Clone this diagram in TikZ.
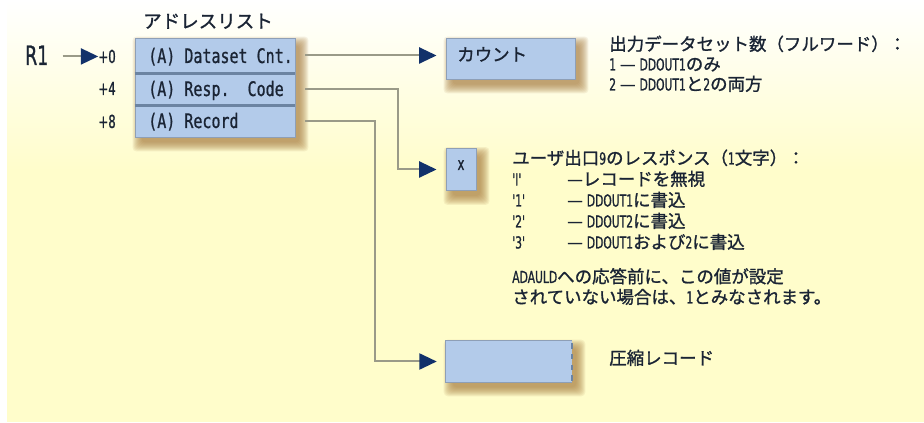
\documentclass[tikz,border=0pt]{standalone}
\usepackage{fontspec}
\setmainfont{Noto Sans CJK JP}
\newfontfamily\jp[FakeBold=1.2]{Noto Sans CJK JP}
\newfontfamily\narrowsans[FakeStretch=0.65,FakeBold=1.0,Ligatures=TeXOff]{DejaVu Sans}
\newfontfamily\narrowmono[FakeStretch=0.75,FakeBold=0.8,Ligatures=TeXOff]{DejaVu Sans Mono}
\usetikzlibrary{arrows.meta,calc}

\definecolor{bgyellow}{HTML}{FFFDCB}
\definecolor{boxfill}{HTML}{B3CBEA}
\definecolor{boxedge}{HTML}{8E9FB6}
\definecolor{rowline}{HTML}{6C84A2}
\definecolor{wirec}{HTML}{9A9A88}
\definecolor{tipc}{HTML}{12316A}
\definecolor{ink}{HTML}{1A2434}
\definecolor{shadowc}{HTML}{A87C40}

% font sizes (1 px = 0.75 pt)
\newcommand\jpf{\jp\fontsize{13.1pt}{16pt}\selectfont}
\newcommand\titlef{\jp\fontsize{13.9pt}{16pt}\selectfont}
\newcommand\rowf{\narrowmono\fontsize{15pt}{18pt}\selectfont}
\newcommand\regf{\narrowsans\fontsize{20pt}{22pt}\selectfont}
\newcommand\offf{\narrowsans\fontsize{13.5pt}{16pt}\selectfont}
\newcommand\lat[1]{{\narrowsans\fontsize{12.4pt}{16pt}\selectfont #1}}
\newcommand\quotecol[1]{\makebox[41.25pt][l]{\lat{#1}}}

\pgfdeclarelayer{backdrop}
\pgfdeclarelayer{shade}
\pgfsetlayers{backdrop,shade,main}

% soft drop shadow behind a box, given its two corners
\newcommand\boxshadow[2]{%
  \begin{pgfonlayer}{shade}
    \foreach \k in {1,...,10}{%
      \fill[shadowc, opacity=0.11, rounded corners=3pt]
        ($(#1)+(8-\k,9-\k)$) rectangle ($(#2)+(3+\k,4+\k)$);
    }
  \end{pgfonlayer}}

\begin{document}
\begin{tikzpicture}[x=0.75pt,y=-0.75pt,
  wire/.style={draw=wirec, line width=1.5pt},
  tipped/.style={wire, -{Triangle[length=13pt,width=12pt,color=tipc]}},
  bluebox/.style={rectangle, fill=boxfill, draw=boxedge, line width=0.7pt, inner sep=0pt},
  rowsep/.style={draw=rowline, line width=1.7pt},
  jtext/.style={font=\jpf, text=ink, inner sep=0pt, anchor=base west},
  rowtext/.style={font=\rowf, text=ink, inner sep=0pt, anchor=base west},
  offtext/.style={font=\offf, text=ink, inner sep=0pt, anchor=base east},
]
\useasboundingbox (0,0) rectangle (924,423);

% backdrop: white fading into pale yellow
\begin{pgfonlayer}{backdrop}
  \fill[white] (0,0) rectangle (924,423);
  \shade[top color=white, bottom color=bgyellow] (7,0) rectangle (924,170);
  \fill[bgyellow] (7,170) rectangle (924,422);
\end{pgfonlayer}

% address list
\node[font=\titlef, text=ink, inner sep=0pt, anchor=base] (title) at (208,28) {アドレスリスト};
\node[bluebox, minimum width=120pt, minimum height=26.25pt] (row0) at (215,55.5) {};
\node[bluebox, minimum width=120pt, minimum height=24pt] (row4) at (215,89) {};
\node[bluebox, minimum width=120pt, minimum height=24pt] (row8) at (215,121) {};
\draw[rowsep] (row0.south west) -- (row0.south east);
\draw[rowsep] (row4.south west) -- (row4.south east);
\boxshadow{row0.north west}{row8.south east}

\node[rowtext] (t0) at (148,63) {(A) Dataset Cnt.};
\node[rowtext] (t4) at (148,96) {(A)~Resp.~~Code};
\node[rowtext] (t8) at (148,128) {(A) Record};

\node[offtext] (off0) at (116,63) {+0};
\node[offtext] (off4) at (116,95) {+4};
\node[offtext] (off8) at (116,128) {+8};

\node[font=\regf, text=ink, inner sep=0pt, anchor=base west] (r1) at (25,65) {R1};
\draw[tipped] ([xshift=10.5pt]r1.east |- off0.west) -- (off0.west);

% target areas
\node[bluebox, minimum width=96.75pt, minimum height=30.75pt] (count) at (510.5,58.5) {};
\boxshadow{count.north west}{count.south east}
\node[jtext] (countlbl) at (457,61) {カウント};

\node[bluebox, minimum width=22.5pt, minimum height=31.5pt] (xbox) at (461,169.5) {};
\boxshadow{xbox.north west}{xbox.south east}
\node[font=\offf, text=ink, inner sep=0pt, anchor=base] (xlbl) at (461,170) {x};

\node[rectangle, fill=boxfill, inner sep=0pt, minimum width=94.5pt, minimum height=30.75pt] (recbox) at (509,361.5) {};
\boxshadow{recbox.north west}{recbox.south east}
\draw[boxedge, line width=0.7pt] (recbox.north east) -- (recbox.north west) -- (recbox.south west) -- (recbox.south east);
\draw[rowline, line width=1.5pt, dash pattern=on 4pt off 4pt] ([yshift=-2pt]recbox.north east) -- (recbox.south east);

% connectors
\draw[tipped, shorten >=6.75pt] ([xshift=7.5pt]row0.east) -- (row0.east -| count.west);
\draw[tipped, shorten >=6.75pt] ([xshift=7.5pt]row4.east) -- ([xshift=-36pt]row4.east -| xbox.west) |- (xbox.west);
\draw[tipped, shorten >=6.75pt] ([xshift=7.5pt]row8.east) -- ([xshift=-53.25pt]row8.east -| recbox.west) |- (recbox.west);

% descriptions
\node[jtext] (d1a) at (609,50.5) {出力データセット数（フルワード）：};
\node[jtext] (d1b) at (609,70.5) {\lat{1} — \lat{DDOUT1}のみ};
\node[jtext] (d1c) at (609,90.5) {\lat{2} — \lat{DDOUT1}と\lat{2}の両方};

\node[jtext] (d2a) at (512,164.5) {ユーザ出口\lat{9}のレスポンス（\lat{1}文字）：};
\node[jtext] (d2b) at (512,185.5) {\quotecol{'I'}—レコードを無視};
\node[jtext] (d2c) at (512,206.5) {\quotecol{'1'}— \lat{DDOUT1}に書込};
\node[jtext] (d2d) at (512,227.5) {\quotecol{'2'}— \lat{DDOUT2}に書込};
\node[jtext] (d2e) at (512,248.5) {\quotecol{'3'}— \lat{DDOUT1}および\lat{2}に書込};
\node[jtext] (d2f) at (512,283) {\lat{ADAULD}への応答前に、この値が設定};
\node[jtext] (d2g) at (512,303.5) {されていない場合は、\lat{1}とみなされます。};

\node[jtext] (reclbl) at (609,364.5) {圧縮レコード};
\end{tikzpicture}
\end{document}
